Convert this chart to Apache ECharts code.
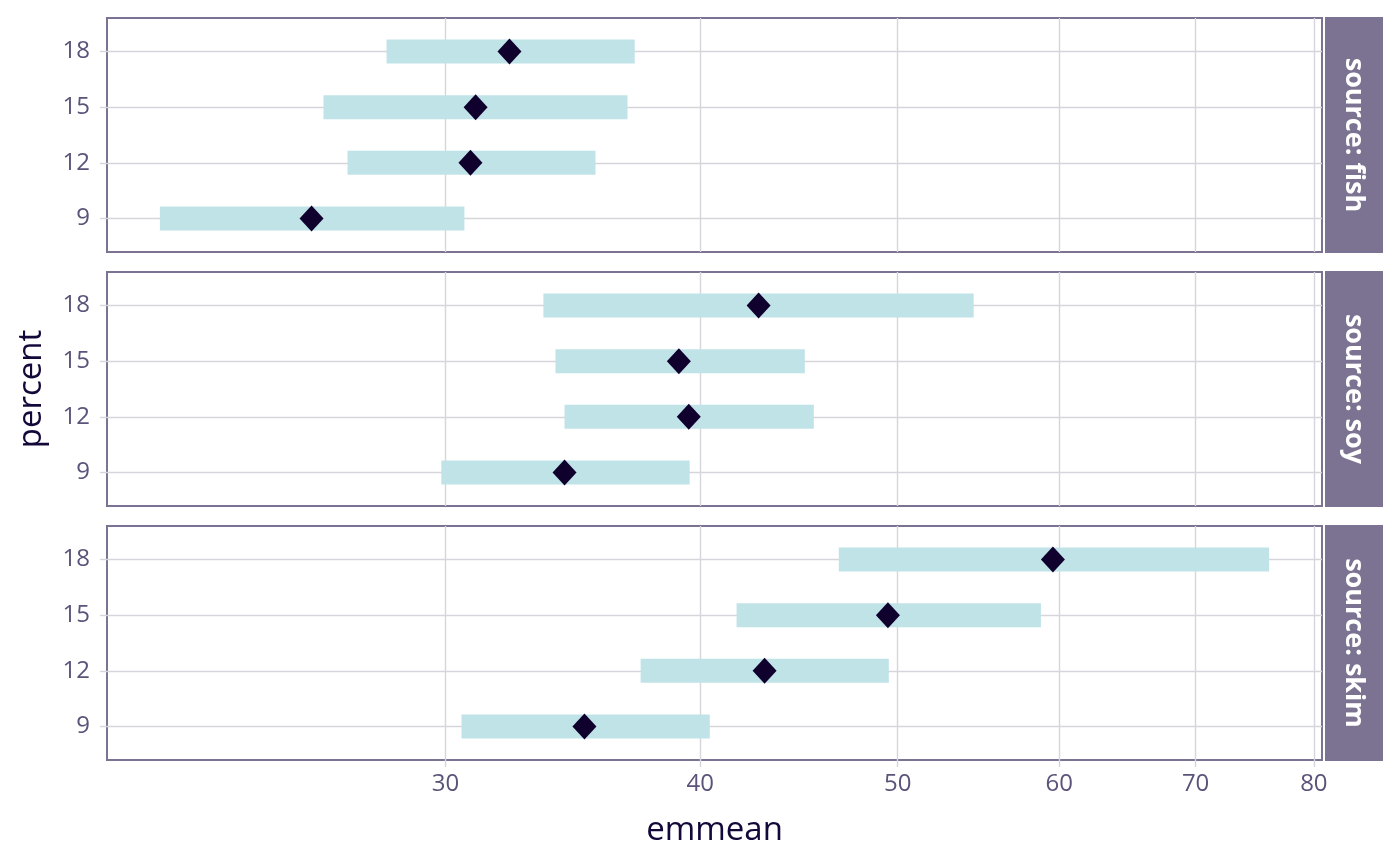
<!DOCTYPE html>
<html>
<head>
<meta charset="utf-8">
<script src="https://cdn.jsdelivr.net/npm/echarts@6/dist/echarts.min.js"></script>
<style>
html, body { margin: 0; padding: 0; background: #fff; }
#main { width: 1400px; height: 866px; }
</style>
</head>
<body>
<div id="main"></div>
<script>
// percent levels and estimated marginal means with confidence limits
const percents = [9, 12, 15, 18]
const sources = ['fish', 'soy', 'skim']
const fishMean = [25.79, 30.86, 31.04, 32.25]
const fishLower = [21.73, 26.86, 26.14, 28.07]
const fishUpper = [30.65, 35.54, 36.85, 37.15]
const soyMean = [34.32, 39.49, 39.05, 42.73]
const soyLower = [29.86, 34.32, 33.97, 33.51]
const soyUpper = [39.53, 45.48, 45.02, 54.48]
const skimMean = [35.10, 43.02, 49.45, 59.58]
const skimLower = [30.55, 37.40, 41.68, 46.78]
const skimUpper = [40.44, 49.50, 58.78, 76.06]
const xTicks = [30, 40, 50, 60, 70, 80]

const panels = [
    {mean: fishMean, lower: fishLower, upper: fishUpper},
    {mean: soyMean, lower: soyLower, upper: soyUpper},
    {mean: skimMean, lower: skimLower, upper: skimUpper}
]

const chart = echarts.init(document.getElementById('main'))
const FONT = '"Open Sans", "Noto Sans", sans-serif'
const tops = [18, 272, 526]
const panelH = 234
const borderColor = '#7b7391'
const labelColor = '#5b5379'
const gridColor = '#d6d5dc'

let grid = [], xAxis = [], yAxis = [], series = [], graphic = []
tops.forEach((top, i) => {
    const last = i === tops.length - 1
    grid.push({
        left: 107, right: 78, top: top, height: panelH,
        show: true, borderColor: borderColor, borderWidth: 2, backgroundColor: '#fff'
    })
    xAxis.push({
        type: 'log', gridIndex: i, min: 20.47, max: 80.74,
        axisLine: {show: false},
        axisTick: {show: last, length: 7, lineStyle: {color: gridColor, width: 1.4}, customValues: xTicks},
        axisLabel: {show: last, customValues: xTicks, color: labelColor, fontSize: 24, fontFamily: FONT, margin: 12},
        splitLine: {show: true, lineStyle: {color: gridColor, width: 1.4}},
        minorSplitLine: {show: false},
        name: last ? 'emmean' : '',
        nameLocation: 'middle', nameGap: 54,
        nameTextStyle: {color: '#14083a', fontSize: 33, fontFamily: FONT}
    })
    yAxis.push({
        type: 'value', gridIndex: i, min: 7.2, max: 19.8,
        axisLine: {show: false},
        axisTick: {show: true, length: 7, lineStyle: {color: gridColor, width: 1.4}, customValues: percents},
        axisLabel: {customValues: percents, color: labelColor, fontSize: 24, fontFamily: FONT, margin: 17},
        splitLine: {show: true, lineStyle: {color: gridColor, width: 1.4}},
        name: i === 1 ? 'percent' : '',
        nameLocation: 'middle', nameGap: 59,
        nameTextStyle: {color: '#14083a', fontSize: 33, fontFamily: FONT}
    })
    const p = panels[i]
    series.push({
        type: 'custom', xAxisIndex: i, yAxisIndex: i,
        encode: {x: [0, 2], y: 1},
        data: percents.map((pc, k) => [p.lower[k], pc, p.upper[k]]),
        renderItem: (params, api) => {
            const a = api.coord([api.value(0), api.value(1)])
            const b = api.coord([api.value(2), api.value(1)])
            const h = 24
            return {
                type: 'rect',
                shape: {x: a[0], y: a[1] - h / 2, width: b[0] - a[0], height: h},
                style: {fill: '#c0e3e8'}
            }
        },
        z: 2
    })
    series.push({
        type: 'scatter', xAxisIndex: i, yAxisIndex: i,
        symbol: 'diamond', symbolSize: [24, 26],
        itemStyle: {color: '#10002e', opacity: 1},
        data: percents.map((pc, k) => [p.mean[k], pc]),
        z: 3
    })
    graphic.push({
        type: 'rect', left: 1325, top: top - 1, shape: {width: 58, height: panelH + 2},
        style: {fill: '#7b7391'}
    })
    graphic.push({
        type: 'text', x: 1354, y: top + panelH / 2, rotation: -Math.PI / 2,
        style: {
            text: 'source: ' + sources[i], fill: '#fff', fontSize: 27, fontWeight: 'bold',
            fontFamily: FONT, align: 'center', verticalAlign: 'middle'
        }
    })
})

chart.setOption({
    animation: false,
    grid, xAxis, yAxis, series, graphic
})
</script>
</body>
</html>
